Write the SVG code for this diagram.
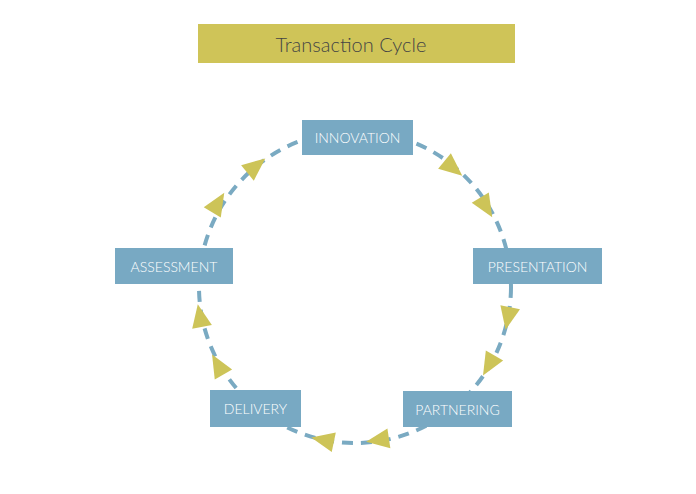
<svg xmlns="http://www.w3.org/2000/svg" width="696" height="494" viewBox="0 0 696 494">
<style>
.box{fill:#78a9c3}
.lbl{fill:#fff;font-family:"Lato","Liberation Sans",sans-serif;font-weight:300;font-size:14px;text-anchor:middle;dominant-baseline:central}
.ah{fill:#cdc458}
</style>
<defs><polygon id="tri" points="12,0 -11,-10 -11,10"/></defs>
<rect width="696" height="494" fill="#fff"/>
<g id="title"><rect x="198" y="24" width="317" height="39" fill="#cfc458"/><text x="351" y="44" font-family="Lato,'Liberation Sans',sans-serif" font-weight="300" font-size="20" fill="#444" text-anchor="middle" dominant-baseline="central">Transaction Cycle</text></g>
<g id="connectors">
<circle cx="355" cy="287" r="156" fill="none" stroke="#7aaac2" stroke-width="4" stroke-dasharray="11 8"/>
<use href="#tri" class="ah" transform="translate(453,168) rotate(39.5)"/>
<use href="#tri" class="ah" transform="translate(486,207) rotate(58.6)"/>
<use href="#tri" class="ah" transform="translate(508,318) rotate(101.5)"/>
<use href="#tri" class="ah" transform="translate(489,365) rotate(120)"/>
<use href="#tri" class="ah" transform="translate(378,440) rotate(171.5)"/>
<use href="#tri" class="ah" transform="translate(323,440) rotate(191.8)"/>
<use href="#tri" class="ah" transform="translate(218,365) rotate(240.3)"/>
<use href="#tri" class="ah" transform="translate(200,316) rotate(259.4)"/>
<use href="#tri" class="ah" transform="translate(218,203) rotate(301.5)"/>
<use href="#tri" class="ah" transform="translate(256,166) rotate(320.7)"/>
</g>
<g id="innovation"><rect class="box" x="302" y="120" width="111" height="35"/><text class="lbl" x="357.5" y="137.5">INNOVATION</text></g>
<g id="presentation"><rect class="box" x="473" y="248" width="129" height="36"/><text class="lbl" x="537.5" y="266">PRESENTATION</text></g>
<g id="partnering"><rect class="box" x="403" y="391" width="109" height="36"/><text class="lbl" x="457.5" y="409">PARTNERING</text></g>
<g id="delivery"><rect class="box" x="210" y="390" width="91" height="37"/><text class="lbl" x="255.5" y="408.5">DELIVERY</text></g>
<g id="assessment"><rect class="box" x="115" y="248" width="118" height="36"/><text class="lbl" x="174" y="266">ASSESSMENT</text></g>
</svg>
